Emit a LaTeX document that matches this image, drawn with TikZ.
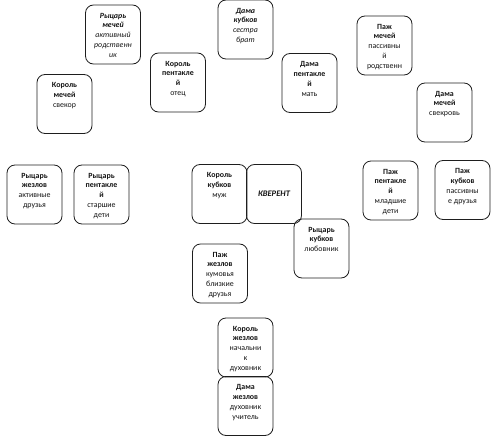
\documentclass[tikz,border=0pt]{standalone}
\usepackage{fontspec}
\setmainfont{Carlito}

\definecolor{spread@line}{RGB}{30,30,30}
\definecolor{spread@text}{RGB}{20,20,20}

% card text: shape switch, bold title, plain subtitle, top aligned
\newcommand{\cardtext}[3]{%
  \parbox[c][43pt][t]{52pt}{\centering\fontsize{7.9}{9.8}\selectfont
    #1{\bfseries #2}\\#3}}

\tikzset{
  card/.style={draw=spread@line, line width=0.8pt, rounded corners=8pt,
    inner sep=0pt, minimum width=55pt, minimum height=59pt,
    text=spread@text},
  querentcard/.style={card, font=\fontsize{8.5}{10}\selectfont\bfseries\itshape},
}

\begin{document}
\begin{tikzpicture}[x=1pt, y=-1pt]
  % Bounding box = reference page
  \useasboundingbox (0,0) rectangle (500,441);

  % ---- CARDS ----
  \foreach \nm/\cx/\cy/\sh/\ttl/\sub in {
      knightS/113/34.5/\itshape/{Рыцарь\\мечей}/{активный\\родственн\\ик},
      queenC/245.5/29.5/\itshape/{Дама\\кубков}/{сестра\\брат},
      kingP/178/82.5/\upshape/{Король\\пентакле\\й}/{отец},
      kingS/64.5/104/\upshape/{Король\\мечей}/{свекор},
      queenP/309.5/83/\upshape/{Дама\\пентакле\\й}/{мать},
      pageS/384.5/45.5/\upshape/{Паж\\мечей}/{пассивны\\й\\родственн},
      queenS/444.5/112.5/\upshape/{Дама\\мечей}/{свекровь},
      knightW/34.5/194.5/\upshape/{Рыцарь\\жезлов}/{активные\\друзья},
      knightP/101.5/194.5/\upshape/{Рыцарь\\пентакле\\й}/{старшие\\дети},
      kingC/219.5/194/\upshape/{Король\\кубков}/{муж},
      knightC/321.5/248.5/\upshape/{Рыцарь\\кубков}/{любовник},
      pageP/390.5/190.5/\upshape/{Паж\\пентакле\\й}/{младшие\\дети},
      pageC/462.5/190/\upshape/{Паж\\кубков}/{пассивны\\е друзья},
      pageW/220/273.5/\upshape/{Паж\\жезлов}/{кумовья\\близкие\\друзья},
      kingW/245.5/347.5/\upshape/{Король\\жезлов}/{начальни\\к\\духовник},
      queenW/245.5/406/\upshape/{Дама\\жезлов}/{духовник\\учитель}%
    } {
    \node[card] (\nm) at (\cx,\cy) {\cardtext{\sh}{\ttl}{\sub}};
  }

  % ---- QUERENT ----
  \node[querentcard] (querent) at (274,194) {\raisebox{-3pt}{КВЕРЕНТ}};
\end{tikzpicture}
\end{document}
